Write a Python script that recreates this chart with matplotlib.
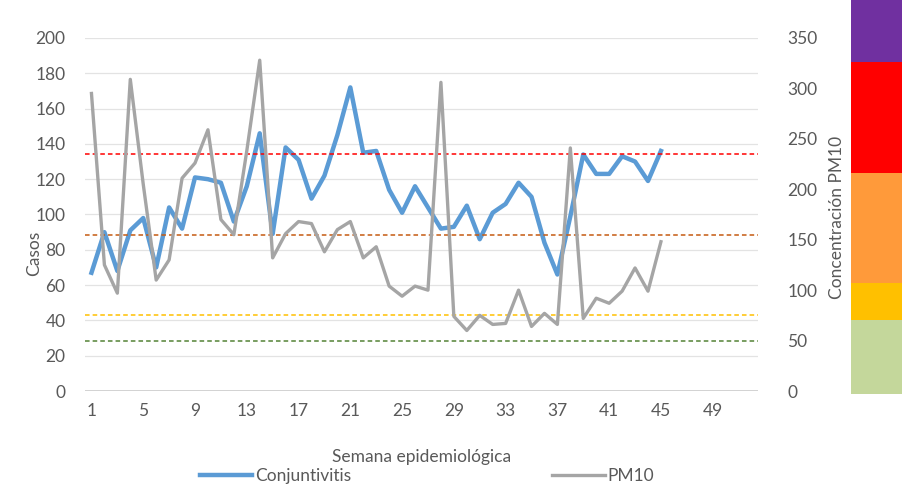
import numpy as np
import matplotlib
matplotlib.use('Agg')
import matplotlib.pyplot as plt
from matplotlib.lines import Line2D

plt.rcParams['font.family'] = ['Lato', 'DejaVu Sans']

# Semanas epidemiológicas con dato
weeks = list(range(1, 46))

# Casos de conjuntivitis (eje izquierdo)
conjuntivitis = [67, 90, 68, 91, 98, 70, 104, 92, 121, 120, 118, 96, 116, 146, 89,
                 138, 131, 109, 122, 145, 172, 135, 136, 114, 101, 116, 104, 92, 93, 105,
                 86, 101, 106, 118, 110, 84, 66, 99, 134, 123, 123, 133, 130, 119, 136]

# Concentración PM10 (eje derecho)
pm10 = [295, 125, 97, 309, 205, 110, 130, 211, 226, 259, 170, 155, 238, 328, 132,
        156, 168, 166, 138, 160, 168, 132, 143, 104, 94, 104, 100, 306, 74, 60,
        75, 66, 67, 100, 64, 77, 66, 241, 72, 92, 87, 99, 122, 99, 148]

# Umbrales PM10 (líneas punteadas) y colores
thresholds = [50, 75, 155, 235]
threshold_colors = ['#548235', '#FFC000', '#C55A11', '#FF0000']

# Barra de categorías de calidad del aire (límites en unidades PM10)
band_edges = [0, 73, 109, 218, 327, 388]
band_colors = ['#C4D79B', '#FFC000', '#FF9A3A', '#FF0000', '#7030A0']

xticks = list(range(1, 50, 4))
left_ticks = list(range(0, 201, 20))
right_ticks = list(range(0, 351, 50))

txt = '#595959'
W, H = 902, 487
fig = plt.figure(figsize=(W / 100, H / 100), dpi=100)

ax = fig.add_axes([85 / W, 1 - 391 / H, 673 / W, 353 / H])
ax2 = ax.twinx()

ax.set_xlim(0.5, 52.5)
ax.set_ylim(0, 200)
ax2.set_ylim(0, 350)

ax.set_yticks(left_ticks)
ax2.set_yticks(right_ticks)
ax.set_xticks(xticks)
ax.grid(axis='y', color='#E3E3E3', lw=0.9)
ax.axhline(0, color='#C8C8C8', lw=1.2, zorder=1)
for a in (ax, ax2):
    for s in a.spines.values():
        s.set_visible(False)
ax.tick_params(axis='both', length=0, labelsize=12.5, colors=txt)
ax.tick_params(axis='y', pad=14)
ax.tick_params(axis='x', pad=9)
ax2.tick_params(axis='y', length=0, labelsize=12.5, colors=txt, pad=21)

for th, c in zip(thresholds, threshold_colors):
    ax2.axhline(th, color=c, lw=1.1, ls=(0, (3, 2)), zorder=1)

ax.plot(weeks, conjuntivitis, color='#5B9BD5', lw=3.2, solid_joinstyle='round', zorder=3)
ax2.plot(weeks, pm10, color='#A5A5A5', lw=2.4, solid_joinstyle='round', zorder=4)

ax.set_xlabel('Semana epidemiológica', fontsize=12.5, color=txt, labelpad=21)
fig.text(34 / W, 1 - 253 / H, 'Casos', rotation=90, fontsize=12.5, color=txt,
         ha='center', va='center')
fig.text(837 / W, 1 - 217 / H, 'Concentración PM10', rotation=90, fontsize=12.5,
         color=txt, ha='center', va='center')

# barra de colores a la derecha
axb = fig.add_axes([851 / W, 1 - 394 / H, 51 / W, 394 / H])
axb.bar(0, np.diff(band_edges), bottom=band_edges[:-1], width=1, color=band_colors)
axb.set_xlim(-0.5, 0.5)
axb.set_ylim(band_edges[0], band_edges[-1])
axb.axis('off')

handles = [Line2D([], [], color='#5B9BD5', lw=3.2), Line2D([], [], color='#A5A5A5', lw=2.4)]
fig.legend(handles, ['Conjuntivitis', 'PM10'], ncol=2, loc='center',
           bbox_to_anchor=(427 / W, 1 - 476 / H), frameon=False, fontsize=12.5,
           labelcolor=txt, handlelength=3.0, handletextpad=0.15, columnspacing=11.6)

fig.savefig('out.png', dpi=100)
